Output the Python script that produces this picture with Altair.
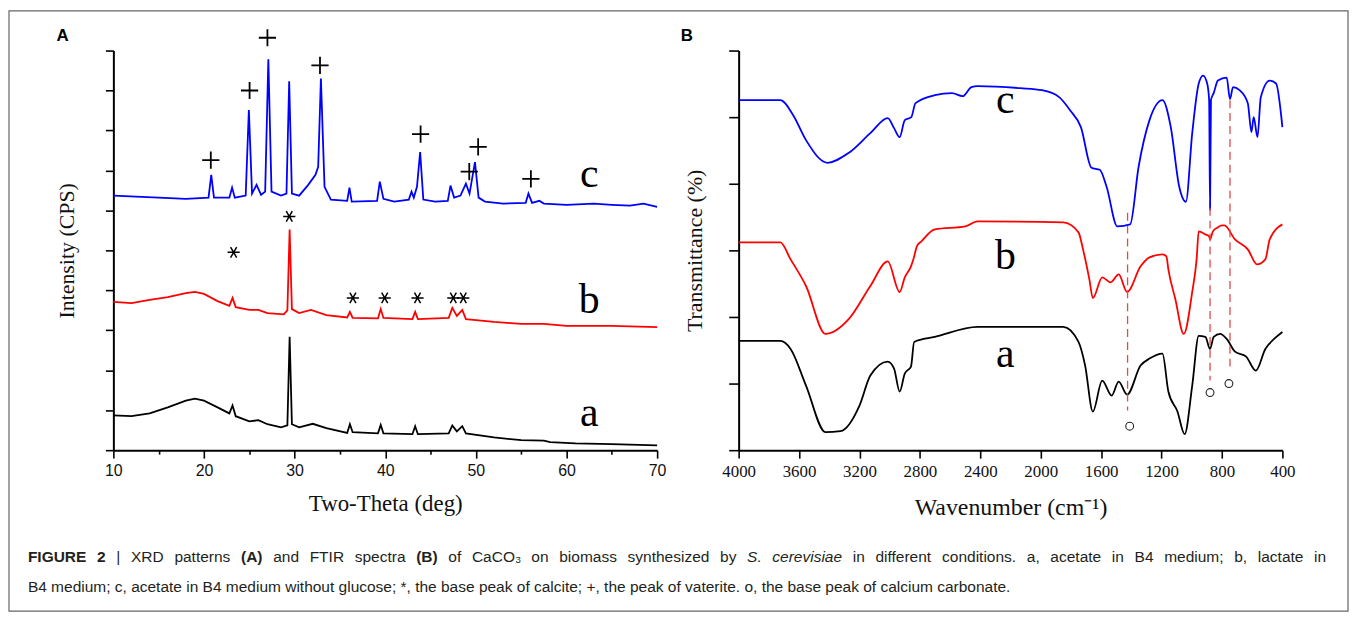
import altair as alt
import pandas as pd

# ---------------- Panel A : XRD patterns ----------------
a_theta = [10, 12, 14, 16, 18, 19, 20, 21.5, 22.8, 23.15, 23.5, 25, 26, 27, 28.5, 29.2, 29.45, 29.7, 30.5, 32,
           33.5, 35.8, 36.1, 36.4, 39.2, 39.5, 39.8, 43.0, 43.3, 43.6, 47.0, 47.4, 47.9, 48.5, 48.9, 52, 55,
           57.5, 58.2, 61, 65, 70]
a_int = [0.87, 0.85, 0.92, 1.07, 1.24, 1.29, 1.24, 1.07, 0.92, 1.12, 0.85, 0.72, 0.75, 0.65, 0.57, 0.62, 2.84,
         0.65, 0.57, 0.66, 0.55, 0.43, 0.65, 0.45, 0.42, 0.63, 0.42, 0.40, 0.60, 0.40, 0.42, 0.62, 0.47, 0.60,
         0.42, 0.32, 0.25, 0.24, 0.20, 0.17, 0.15, 0.12]

b_theta = [10, 12, 14, 16, 18, 19, 20, 21.5, 22.8, 23.15, 23.5, 25, 26, 27, 28.8, 29.2, 29.45, 29.7, 30.5, 31.8,
           33.5, 35.8, 36.1, 36.4, 39.2, 39.5, 39.8, 43.0, 43.3, 43.6, 47.0, 47.4, 47.9, 48.5, 48.9, 52, 55,
           57.5, 60, 65, 70]
b_int = [3.71, 3.68, 3.76, 3.83, 3.93, 3.96, 3.91, 3.73, 3.61, 3.81, 3.58, 3.51, 3.51, 3.43, 3.40, 3.50, 5.52,
         3.53, 3.43, 3.51, 3.38, 3.32, 3.46, 3.31, 3.30, 3.53, 3.31, 3.28, 3.46, 3.28, 3.31, 3.56, 3.36, 3.51,
         3.28, 3.21, 3.16, 3.16, 3.11, 3.11, 3.08]

c_theta = [10, 15, 18, 20.5, 20.8, 21.1, 22.8, 23.1, 23.4, 24.6, 24.95, 25.3, 25.8, 26.3, 26.75, 27.1, 27.45,
           28.5, 29.1, 29.4, 29.7, 30.5, 31.5, 32.3, 32.6, 32.9, 33.3, 34, 35.8, 36.05, 36.3, 39.1, 39.4, 39.8,
           41, 42.6, 42.9, 43.15, 43.5, 43.85, 44.2, 45.5, 46.9, 47.2, 47.6, 48.3, 48.9, 49.3, 49.9, 50.3, 51,
           53, 55.5, 55.8, 56.2, 57, 57.5, 60, 63, 65, 67, 68.5, 70]
c_int = [6.37, 6.32, 6.29, 6.32, 6.89, 6.32, 6.32, 6.57, 6.32, 6.37, 8.51, 6.42, 6.64, 6.39, 6.47, 9.78, 6.47,
         6.37, 6.42, 9.23, 6.42, 6.37, 6.64, 6.89, 7.09, 9.30, 6.59, 6.27, 6.24, 6.57, 6.22, 6.24, 6.72, 6.29,
         6.22, 6.27, 6.47, 6.32, 6.59, 7.46, 6.27, 6.22, 6.24, 6.62, 6.32, 6.37, 6.67, 6.42, 7.21, 6.32, 6.22,
         6.17, 6.19, 6.42, 6.19, 6.24, 6.17, 6.14, 6.17, 6.14, 6.12, 6.17, 6.09]

vaterite_theta = [20.75, 25.03, 27.0, 32.8, 43.9, 49.27, 50.25, 56.07]
vaterite_y = [7.26, 9.0, 10.32, 9.63, 7.91, 6.97, 7.59, 6.79]
calcite_theta = [29.41, 23.27, 36.43, 39.94, 43.56, 47.51, 48.61]
calcite_y = [5.85, 4.95, 3.81, 3.81, 3.81, 3.81, 3.81]

xrd_lab_text = ["a", "b", "c"]
xrd_lab_x = [62.5, 62.5, 62.5]
xrd_lab_y = [0.92, 3.76, 6.92]

# ---------------- Panel B : FTIR spectra ----------------
fa_wn = [4000, 3724, 3656, 3554, 3425, 3326, 3200, 3128, 3013, 2971, 2934, 2900, 2859, 2838, 2701, 2418, 1851,
         1750, 1706, 1655, 1593, 1530, 1484, 1428, 1339, 1280, 1194, 1155, 1095, 1047, 997, 954, 910, 879, 855,
         812, 769, 714, 640, 576, 513, 455, 400]
fa_t = [3.28, 3.28, 3.04, 1.94, 0.54, 0.57, 1.34, 2.24, 2.66, 2.45, 1.76, 2.30, 2.51, 3.25, 3.40, 3.70, 3.70,
        3.25, 2.54, 1.16, 2.09, 1.64, 2.06, 1.67, 2.54, 2.75, 2.90, 1.76, 1.16, 0.48, 1.94, 3.43, 3.40, 3.04,
        3.40, 3.49, 3.34, 2.96, 2.81, 2.39, 3.04, 3.34, 3.55]

fb_wn = [4000, 3724, 3656, 3554, 3425, 3270, 3128, 3013, 2934, 2900, 2859, 2843, 2820, 2790, 2701, 2500, 2418,
         1850, 1750, 1720, 1678, 1655, 1593, 1537, 1484, 1428, 1339, 1280, 1194, 1168, 1155, 1109, 1053, 997,
         968, 954, 910, 885, 879, 860, 827, 800, 784, 714, 629, 568, 513, 484, 400]
fb_t = [6.24, 6.24, 5.73, 4.93, 3.49, 3.94, 4.93, 5.67, 4.75, 5.19, 5.52, 5.73, 6.12, 6.27, 6.63, 6.72, 6.87,
        6.84, 6.54, 6.03, 5.13, 4.57, 5.19, 5.04, 5.28, 4.75, 5.52, 5.79, 5.88, 5.82, 5.43, 4.54, 3.49, 4.75,
        5.73, 6.57, 6.48, 6.42, 6.33, 6.57, 6.69, 6.75, 6.75, 6.33, 6.03, 5.58, 5.73, 6.33, 6.78]

fc_wn = [4000, 3724, 3639, 3554, 3412, 3270, 3128, 3013, 2971, 2934, 2900, 2857, 2829, 2701, 2588, 2517, 2459,
         2418, 2135, 1991, 1878, 1806, 1734, 1664, 1609, 1564, 1493, 1408, 1352, 1280, 1194, 1139, 1083, 1039,
         997, 954, 925, 898, 885, 879, 873, 855, 827, 769, 747, 727, 684, 629, 605, 590, 565, 543, 484, 442, 400]
fc_t = [10.51, 10.51, 10.06, 9.31, 8.63, 8.93, 9.52, 9.97, 9.67, 9.40, 9.91, 10.0, 10.42, 10.66, 10.72, 10.63,
        10.90, 10.93, 10.87, 10.81, 10.60, 10.21, 9.70, 8.48, 8.42, 7.91, 6.72, 6.78, 8.51, 9.91, 10.51, 9.70,
        7.91, 7.46, 9.52, 11.01, 11.25, 11.01, 10.51, 7.22, 10.51, 10.72, 11.10, 11.19, 10.54, 10.90, 10.81,
        10.42, 9.55, 10.0, 9.40, 10.60, 11.10, 11.01, 9.70]

guide_wn = [1425, 879, 747]
guide_top = [7.13, 7.28, 10.51]
guide_bottom = [1.19, 2.09, 2.36]
circle_wn = [1411, 879, 754]
circle_t = [0.72, 1.73, 2.0]

ftir_lab_text = ["a", "b", "c"]
ftir_lab_x = [2234, 2234, 2234]
ftir_lab_y = [2.90, 5.82, 10.51]

# ---------------- Caption ----------------
cap_line1 = [("FIGURE", "b"), ("2", "b"), ("|", "r"), ("XRD", "r"), ("patterns", "r"), ("(A)", "b"),
             ("and", "r"), ("FTIR", "r"), ("spectra", "r"), ("(B)", "b"), ("of", "r"), ("CaCO\u2083", "r"),
             ("on", "r"), ("biomass", "r"), ("synthesized", "r"), ("by", "r"), ("S.", "i"),
             ("cerevisiae", "i"), ("in", "r"), ("different", "r"), ("conditions.", "r"), ("a,", "r"),
             ("acetate", "r"), ("in", "r"), ("B4", "r"), ("medium;", "r"), ("b,", "r"), ("lactate", "r"),
             ("in", "r")]
cap_line2 = ("B4 medium; c, acetate in B4 medium without glucose; *, the base peak of calcite; +, "
             "the peak of vaterite. o, the base peak of calcium carbonate.")

# ---------------- helpers: Arial/Helvetica advance widths (per 1000 em) ----------------
_reg = {' ': 278, '(': 333, ')': 333, '*': 389, '+': 584, ',': 278, '-': 333, '.': 278, '|': 260, ';': 278,
        ':': 278, '\u2083': 370}
for ch in "0123456789":
    _reg[ch] = 556
_reg.update(dict(zip("ABCDEFGHIJKLMNOPQRSTUVWXYZ",
                     [667, 667, 722, 722, 667, 611, 778, 722, 278, 500, 667, 556, 833, 722, 778, 667, 778, 722,
                      667, 611, 722, 667, 944, 667, 667, 611])))
_reg.update(dict(zip("abcdefghijklmnopqrstuvwxyz",
                     [556, 556, 500, 556, 556, 278, 556, 556, 222, 222, 500, 222, 833, 556, 556, 556, 556, 333,
                      500, 278, 556, 500, 722, 500, 500, 500])))
_bold = dict(_reg)
_bold.update(dict(zip("ABCDEFGHIJKLMNOPQRSTUVWXYZ",
                      [722, 722, 722, 722, 667, 611, 778, 722, 278, 556, 722, 611, 833, 722, 778, 667, 778, 722,
                       667, 611, 722, 667, 944, 667, 667, 611])))
_bold['|'] = 280


def em_width(s, style):
    table = _bold if style == "b" else _reg
    return sum(table.get(ch, 556) for ch in s) / 1000.0


PAD_L, PAD_T = 113, 48          # plot-area origin of panel A on the page
cap_x0 = 27 - PAD_L
cap_fs = 989.0 / em_width(cap_line2, "r")
line1_target = 1306.0
nat = sum(em_width(w, s) for w, s in cap_line1) * cap_fs
n_sp = len(cap_line1) - 1
space_w = (line1_target - nat) / n_sp
rows = []
cur = cap_x0
for w, s in cap_line1:
    rows.append({"text": w, "px": cur, "py": 557 - PAD_T, "style": s})
    cur += em_width(w, s) * cap_fs + space_w
rows.append({"text": cap_line2, "px": cap_x0, "py": 588 - PAD_T, "style": "r"})
cap_df = pd.DataFrame(rows)

# ---------------- data frames ----------------
xrd_df = pd.concat([
    pd.DataFrame({"theta": a_theta, "intensity": a_int, "series": "a"}),
    pd.DataFrame({"theta": b_theta, "intensity": b_int, "series": "b"}),
    pd.DataFrame({"theta": c_theta, "intensity": c_int, "series": "c"}),
])
vat_df = pd.DataFrame({"theta": vaterite_theta, "intensity": vaterite_y})
cal_df = pd.DataFrame({"theta": calcite_theta, "intensity": calcite_y})
xlab_df = pd.DataFrame({"theta": xrd_lab_x, "intensity": xrd_lab_y, "text": xrd_lab_text})

ftir_df = pd.concat([
    pd.DataFrame({"wn": fa_wn, "t": fa_t, "series": "a"}),
    pd.DataFrame({"wn": fb_wn, "t": fb_t, "series": "b"}),
    pd.DataFrame({"wn": fc_wn, "t": fc_t, "series": "c"}),
])
guide_df = pd.DataFrame({"wn": guide_wn, "top": guide_top, "bottom": guide_bottom})
circ_df = pd.DataFrame({"wn": circle_wn, "t": circle_t})
flab_df = pd.DataFrame({"wn": ftir_lab_x, "t": ftir_lab_y, "text": ftir_lab_text})
one = pd.DataFrame({"k": [0]})

color = alt.Color("series:N", scale=alt.Scale(domain=["a", "b", "c"], range=["#000000", "#ff0000", "#0000ff"]),
                  legend=None)

W, H = 547, 402
SERIF = "Liberation Serif"
SANS = "Liberation Sans"

# ---------------- Panel A ----------------
xA = alt.X("theta:Q", scale=alt.Scale(domain=[10, 70], nice=False, zero=False),
           axis=alt.Axis(values=list(range(10, 71, 5)), format="d", labelFlush=False, labelOverlap=False,
                         labelExpr="datum.value % 10 === 0 ? datum.label : ''",
                         tickSize={"condition": {"test": "datum.value % 10 === 0", "value": 8}, "value": 4},
                         labelFont=SANS, labelFontSize=16, labelPadding=4, labelColor="#111",
                         title="Two-Theta (deg)", titleFont=SERIF, titleFontSize=23, titleFontWeight="normal",
                         titlePadding=15, grid=False))
yA = alt.Y("intensity:Q", scale=alt.Scale(domain=[0, 10], nice=False, zero=False),
           axis=alt.Axis(values=list(range(0, 11)), labels=False, tickSize=8,
                         title="Intensity (CPS)", titleFont=SERIF, titleFontSize=22, titleFontWeight="normal",
                         titlePadding=26, grid=False))

linesA = alt.Chart(xrd_df).mark_line(strokeWidth=1.8).encode(x=xA, y=yA, color=color, detail="series:N")
plus_path = "M-1,0L1,0M0,-1L0,1"
star_path = "M-1,0L1,0M-0.5,-0.866L0.5,0.866M-0.5,0.866L0.5,-0.866"
vat = alt.Chart(vat_df).mark_point(shape=plus_path, size=300, filled=False, stroke="#000", opacity=1,
                                   strokeWidth=1.8).encode(x="theta:Q", y="intensity:Q")
cal = alt.Chart(cal_df).mark_point(shape=star_path, size=150, filled=False, stroke="#000", opacity=1,
                                   strokeWidth=1.5).encode(x="theta:Q", y="intensity:Q")
labA = alt.Chart(xlab_df).mark_text(font=SERIF, fontSize=42, baseline="middle", align="center",
                                    color="#000").encode(x="theta:Q", y="intensity:Q", text="text:N")

frame = alt.Chart(one).mark_rect(fill="transparent", stroke="#666", strokeWidth=1.2).encode(
    x=alt.value(8 - PAD_L), x2=alt.value(1355 - PAD_L), y=alt.value(8 - PAD_T), y2=alt.value(612 - PAD_T))
tagA = alt.Chart(one).mark_text(text="A", font=SANS, fontSize=17, fontWeight="bold", align="center",
                                baseline="middle", color="#000").encode(x=alt.value(62 - PAD_L),
                                                                          y=alt.value(33 - PAD_T))


def cap_layer(style):
    kw = dict(font=SANS, fontSize=cap_fs, align="left", baseline="middle", color="#231f20")
    if style == "b":
        kw["fontWeight"] = "bold"
    if style == "i":
        kw["fontStyle"] = "italic"
    return alt.Chart(cap_df[cap_df["style"] == style]).mark_text(**kw).encode(
        x=alt.X("px:Q", scale=None, axis=None), y=alt.Y("py:Q", scale=None, axis=None), text="text:N")


panelA = alt.layer(linesA, vat, cal, labA, frame, tagA, cap_layer("r"), cap_layer("b"),
                   cap_layer("i")).properties(width=W, height=H)

# ---------------- Panel B ----------------
xB = alt.X("wn:Q", scale=alt.Scale(domain=[400, 4000], reverse=True, nice=False, zero=False),
           axis=alt.Axis(values=list(range(400, 4001, 200)), format="d", labelFlush=False, labelOverlap=False,
                         labelExpr="datum.value % 400 === 0 ? datum.label : ''",
                         tickSize={"condition": {"test": "datum.value % 400 === 0", "value": 8}, "value": 4},
                         labelFont=SERIF, labelFontSize=17, labelPadding=5, labelColor="#111",
                         title="Wavenumber (cm\u207b\u00b9)", titleFont=SERIF, titleFontSize=24,
                         titleFontWeight="normal", titlePadding=17, grid=False))
yB = alt.Y("t:Q", scale=alt.Scale(domain=[0, 12], nice=False, zero=False),
           axis=alt.Axis(values=list(range(0, 13)), labels=False,
                         tickSize={"condition": {"test": "datum.value % 2 === 0", "value": 10}, "value": 6},
                         title="Transmittance (%)", titleFont=SERIF, titleFontSize=22, titleFontWeight="normal",
                         titlePadding=22, grid=False))

linesB = alt.Chart(ftir_df).mark_line(strokeWidth=1.8, interpolate="monotone").encode(
    x=xB, y=yB, color=color, detail="series:N", order=alt.Order("wn:Q", sort="descending"))
guides = alt.Chart(guide_df).mark_rule(color="#e04a4a", strokeWidth=1.3, strokeDash=[8, 5]).encode(
    x="wn:Q", y="top:Q", y2="bottom:Q")
circles = alt.Chart(circ_df).mark_point(shape="circle", size=62, filled=False, stroke="#222", opacity=1,
                                        strokeWidth=1.1).encode(x="wn:Q", y="t:Q")
labB = alt.Chart(flab_df).mark_text(font=SERIF, fontSize=42, baseline="middle", align="center",
                                    color="#000").encode(x="wn:Q", y="t:Q", text="text:N")
tagB = alt.Chart(one).mark_text(text="B", font=SANS, fontSize=17, fontWeight="bold", align="center",
                                baseline="middle", color="#000").encode(x=alt.value(690 - 742),
                                                                          y=alt.value(33 - PAD_T))

panelB = alt.layer(linesB, guides, circles, labB, tagB).properties(width=W, height=H)

chart = alt.hconcat(panelA, panelB, spacing=82, bounds="flush").properties(padding=0).configure_view(
    stroke=None).configure_axis(domainColor="#000", domainWidth=2, tickColor="#000", tickWidth=1.6,
                                titleColor="#111")

chart.save("out.html", embed_options={"renderer": "svg", "actions": False})
